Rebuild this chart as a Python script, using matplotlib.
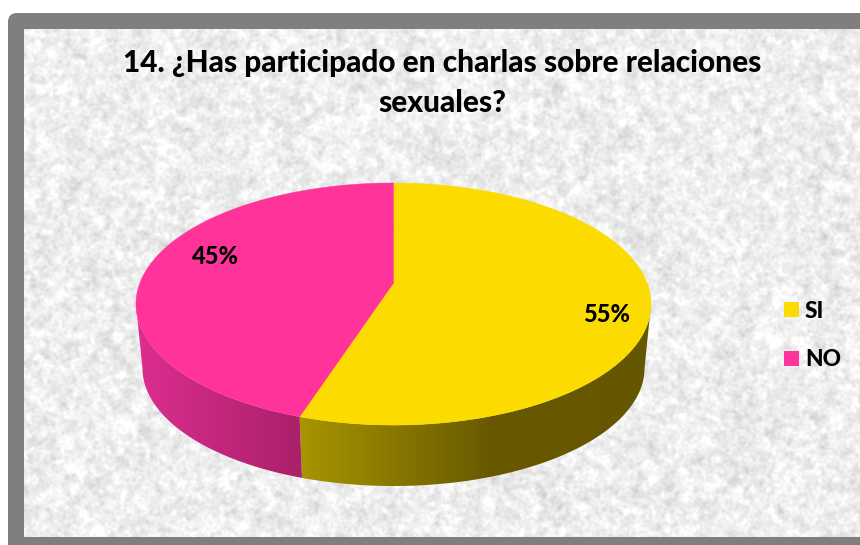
# 14. pie chart with perspective, textured background and grey frame

import numpy as np
import matplotlib
matplotlib.use('Agg')
import matplotlib.pyplot as plt
from matplotlib.colors import to_rgb
from matplotlib.patches import FancyBboxPatch, Polygon, Rectangle

plt.rcParams['font.family'] = ['Lato', 'Noto Sans', 'DejaVu Sans']

# Data
categories = ['SI', 'NO']
values = [55, 45]
labels = ['55%', '45%']
title = '14. ¿Has participado en charlas sobre relaciones\nsexuales?'

top_colors = ['#fcdc00', '#ff3399']
side_stops_x = [[300, 490, 650], [136, 300]]
side_stops_c = [['#a89500', '#685900', '#655700'], ['#dc2e90', '#aa2069']]

W, H = 860, 545
fig = plt.figure(figsize=(W / 100, H / 100), dpi=100)
ax = fig.add_axes([0, 0, 1, 1])
ax.set_xlim(0, W)
ax.set_ylim(H, 0)
ax.axis('off')

# Outer frame
ax.add_patch(FancyBboxPatch((16, 21), W + 20, H, boxstyle='round,pad=8,rounding_size=9',
                            fc='#7f7f7f', ec='none', zorder=1))

# Mottled background: seeded noise blurred in the frequency domain
rng = np.random.default_rng(14)
th, tw = 508, 836
fy = np.fft.fftfreq(th)[:, None]
fx = np.fft.rfftfreq(tw)[None, :]
noise = np.zeros((th, tw))
for sigma, amp in [(1.2, 1.0), (3.0, 1.1), (12.0, 0.2)]:
    layer = np.fft.irfft2(np.fft.rfft2(rng.normal(size=(th, tw))) *
                          np.exp(-2 * (np.pi * sigma) ** 2 * (fx ** 2 + fy ** 2)), s=(th, tw))
    noise += amp * layer / layer.std()
noise = np.clip(238 + 5.5 * noise, 190, 255)
ax.imshow(noise, cmap='gray', vmin=0, vmax=255, extent=(24, 860, 537, 29),
          interpolation='bilinear', aspect='auto', zorder=2)

# Perspective of the disc: centre of rotation sits above the ellipse centre
cx, py, A, B, k = 393.5, 283.0, 253.6, 117.4, 0.1736
scale_low, py_low = 0.975, 347.5


def project(theta, s=1.0, pivot=py):
    # theta in degrees, clockwise from 12 o'clock
    t = np.radians(theta)
    d = 1 + k * np.cos(t)
    return cx + s * A * np.sin(t) / d, pivot - s * B * np.cos(t) / d


edges = np.concatenate([[0], np.cumsum(values) / np.sum(values) * 360])
wide = np.degrees(np.arccos(-k))  # where the disc is widest on the right

# Side walls: horizontal colour ramp clipped to the visible wall
for i in range(len(values)):
    start = max(edges[i], wide)
    stop = min(edges[i + 1], 360 - wide)
    steps = np.linspace(start, stop, 300)
    xt, yt = project(steps)
    xb, yb = project(steps, scale_low, py_low)
    wall = np.column_stack([np.r_[xt, xb[::-1]], np.r_[yt, yb[::-1]]])
    stops = np.array([to_rgb(c) for c in side_stops_c[i]])
    ramp_x = np.arange(W)
    ramp = np.column_stack([np.interp(ramp_x, side_stops_x[i], stops[:, n]) for n in range(3)])
    im = ax.imshow(ramp[None, :, :], extent=(0, W, H, 0), aspect='auto', zorder=3)
    patch = Polygon(wall, closed=True, fc='none', ec='none', transform=ax.transData)
    ax.add_patch(patch)
    im.set_clip_path(patch)

ax.set_xlim(0, W)
ax.set_ylim(H, 0)

# Top of the disc
for i in range(len(values)):
    steps = np.linspace(edges[i], edges[i + 1], 300)
    xt, yt = project(steps)
    pts = np.column_stack([np.r_[cx, xt], np.r_[py, yt]])
    ax.add_patch(Polygon(pts, closed=True, fc=top_colors[i], ec=top_colors[i], lw=0.3, zorder=4))

ax.text(442, 83, title, ha='center', va='center', fontsize=21.4, fontweight='black',
        color='black', linespacing=1.48, zorder=6)

label_pos = [(607, 314), (215, 256)]
for lab, (x, y) in zip(labels, label_pos):
    ax.text(x, y, lab, ha='center', va='center', fontsize=17, fontweight='black', zorder=6)

# Legend
legend_y = [302, 351]
for name, col, y in zip(categories, top_colors, legend_y):
    ax.add_patch(Rectangle((784, y), 15, 15, fc=col, ec='none', zorder=6))
    ax.text(805, y + 9, name, ha='left', va='center', fontsize=16.3, fontweight='black', zorder=6)

fig.savefig('out.png', dpi=100)
